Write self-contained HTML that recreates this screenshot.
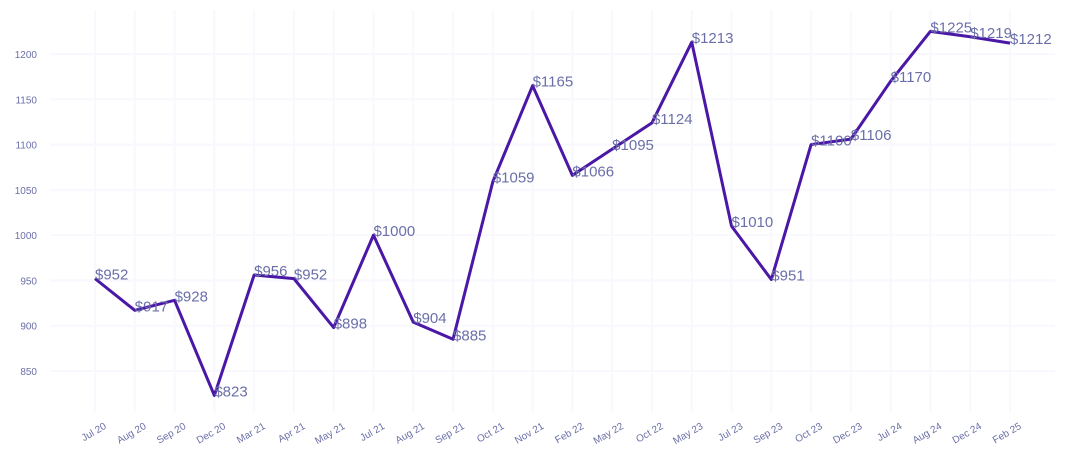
<!DOCTYPE html>
<html><head><meta charset="utf-8"><style>
body{margin:0;background:#fff;}
svg text{font-family:"Liberation Sans",sans-serif;}
</style></head><body>
<svg id="chart" width="1070" height="465" xmlns="http://www.w3.org/2000/svg">
<g id="grid"></g>
<g id="yaxis"></g>
<g id="xaxis"></g>
<g id="series"></g>
</svg>
<script>
const categories=["Jul 20","Aug 20","Sep 20","Dec 20","Mar 21","Apr 21","May 21","Jul 21","Aug 21","Sep 21","Oct 21","Nov 21","Feb 22","May 22","Oct 22","May 23","Jul 23","Sep 23","Oct 23","Dec 23","Jul 24","Aug 24","Dec 24","Feb 25"];
const prices=[952,917,928,823,956,952,898,1000,904,885,1059,1165,1066,1095,1124,1213,1010,951,1100,1106,1170,1225,1219,1212];
const yTicks=[850,900,950,1000,1050,1100,1150,1200];
const NS="http://www.w3.org/2000/svg";
const x0=95,x1=1010;
function xs(i){return x0+(x1-x0)*i/(categories.length-1);}
function ys(v){return 54+(1200-v)*(317/350);}
function mk(tag,attrs,parent){const e=document.createElementNS(NS,tag);for(const k in attrs)e.setAttribute(k,attrs[k]);parent.appendChild(e);return e;}
const grid=document.getElementById('grid'),ya=document.getElementById('yaxis'),xa=document.getElementById('xaxis'),se=document.getElementById('series');
yTicks.forEach(v=>{
  const l=mk('line',{x1:50,x2:1055,y1:ys(v),y2:ys(v),stroke:'#f8f8fe','stroke-width':2},grid);
  
  
  const t=mk('text',{x:37,y:ys(v)+4,'text-anchor':'end','font-size':10,fill:'#6b6fa8'},ya);
  t.textContent=v;
  
  
});
categories.forEach((c,i)=>{
  const l=mk('line',{x1:xs(i),x2:xs(i),y1:10,y2:412,stroke:'#f8f8fe','stroke-width':2},grid);
  
  
  const t=mk('text',{x:xs(i)+12,y:428,'text-anchor':'end','font-size':10,fill:'#6b6fa8',transform:`rotate(-30 ${xs(i)+12} 428)`},xa);
  t.textContent=c;
  
  
});
const pts=prices.map((v,i)=>xs(i)+','+ys(v)).join(' ');
const pl=mk('polyline',{points:pts,fill:'none',stroke:'#4a17a6','stroke-width':3,'stroke-linejoin':'round'},se);


prices.forEach((v,i)=>{
  const t=mk('text',{x:xs(i),y:ys(v)+1,'font-size':15,fill:'#6b6fa8'},se);
  t.textContent='$'+v;
  
  
});
</script>
</body></html>
